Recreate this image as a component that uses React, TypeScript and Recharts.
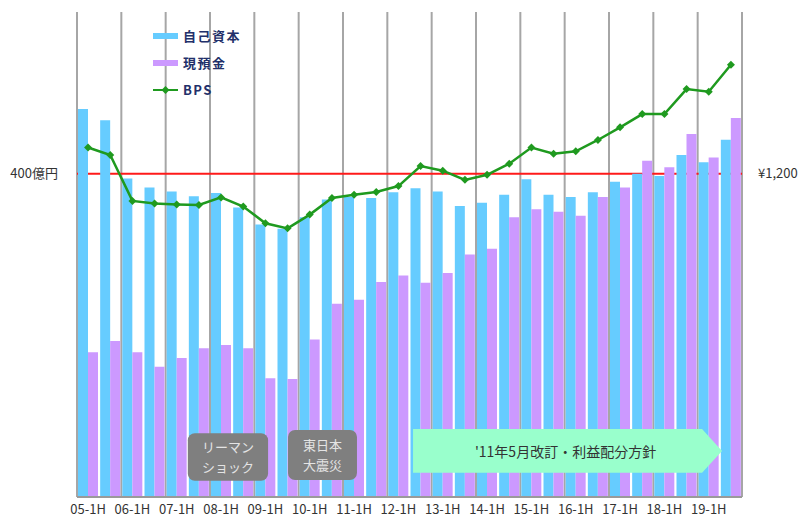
import {
  ComposedChart, Bar, Line, XAxis, YAxis, CartesianGrid,
} from 'recharts';

const periods = [
  '05-1H', '05-2H', '06-1H', '06-2H', '07-1H', '07-2H', '08-1H', '08-2H',
  '09-1H', '09-2H', '10-1H', '10-2H', '11-1H', '11-2H', '12-1H', '12-2H',
  '13-1H', '13-2H', '14-1H', '14-2H', '15-1H', '15-2H', '16-1H', '16-2H',
  '17-1H', '17-2H', '18-1H', '18-2H', '19-1H', '19-2H',
];

// 自己資本 (億円)
const equity = [
  480, 466, 394, 383, 378, 372, 376, 358, 337, 332, 346, 368, 371, 370, 377,
  382, 378, 360, 364, 374, 393, 374, 371, 377, 390, 400, 397, 423, 414, 442,
];

// 現預金 (億円)
const cash = [
  179, 193, 179, 161, 172, 184, 188, 184, 147, 146, 195, 239, 244, 266, 274,
  265, 277, 300, 307, 346, 356, 353, 348, 371, 383, 416, 408, 449, 420, 469,
];

// BPS (円)
const bps = [
  1297, 1269, 1099, 1089, 1086, 1084, 1112, 1078, 1016, 997, 1048, 1110, 1122,
  1132, 1154, 1228, 1211, 1177, 1196, 1237, 1297, 1274, 1283, 1325, 1372, 1421,
  1421, 1514, 1504, 1604,
];

const labelTicks = periods.filter(p => p.endsWith('1H'));
const years = periods.length / 2;
const leftMax = 600;
const rightMax = 1800;
const guide = 400; // 400億円 = ¥1,200

const data = periods.map((p, i) => ({ period: p, equity: equity[i], cash: cash[i], bps: bps[i] }));

const FONT = '"Noto Sans CJK JP", "Noto Sans", sans-serif';
const W = 800;
const H = 519;
const MARGIN = { top: 12, right: 0, left: 0, bottom: 0 };
const LEFT_W = 77;
const RIGHT_W = 58;
const X_H = 22;

// plot box, from the margins and axis sizes above
const PLOT_L = MARGIN.left + LEFT_W;
const PLOT_R = W - MARGIN.right - RIGHT_W;
const PLOT_T = MARGIN.top;
const PLOT_B = H - MARGIN.bottom - X_H;
const band = (PLOT_R - PLOT_L) / periods.length;
const px = (slot: number) => PLOT_L + slot * band;
const py = (v: number) => PLOT_B - (v / leftMax) * (PLOT_B - PLOT_T);

const Diamond = (props: any) => {
  const { cx, cy } = props;
  if (cx == null || cy == null) return null;
  const r = 4;
  return (
    <polygon
      points={`${cx},${cy - r} ${cx + r},${cy} ${cx},${cy + r} ${cx - r},${cy}`}
      fill="#1f9a1f"
    />
  );
};

// callouts: slot = category index on the x axis, value = left axis (億円)
const boxes = [
  { lines: ['リーマン', 'ショック'], s1: 5.0, s2: 8.62, v1: 79, v2: 20 },
  { lines: ['東日本', '大震災'], s1: 9.52, s2: 12.63, v1: 83, v2: 21 },
];
const policy = { text: "'11年5月改訂・利益配分方針", s1: 15.16, s2: 29.1, v1: 84, v2: 30 };

const Callouts = () => {
  const ax = px(policy.s1);
  const ar = px(policy.s2);
  const at = py(policy.v1);
  const ab = py(policy.v2);
  const head = 20;
  const am = (at + ab) / 2;
  return (
    <svg width={W} height={H} style={{ position: 'absolute', left: 0, top: 0 }}>
      {boxes.map(b => {
        const x = px(b.s1);
        const w = px(b.s2) - x;
        const y = py(b.v1);
        const h = py(b.v2) - y;
        return (
          <g key={b.lines[0]}>
            <rect x={x} y={y} width={w} height={h} rx={7} ry={7} fill="#7f7f7f" />
            {b.lines.map((l, i) => (
              <text
                key={l}
                x={x + w / 2}
                y={y + h / 2 + (i - 0.5) * 20}
                textAnchor="middle"
                dominantBaseline="central"
                fill="#e4e4e4"
                fontSize={13}
                fontFamily={FONT}
              >
                {l}
              </text>
            ))}
          </g>
        );
      })}
      <polygon
        points={`${ax},${at} ${ar - head},${at} ${ar},${am} ${ar - head},${ab} ${ax},${ab}`}
        fill="#99ffcc"
      />
      <text
        x={(ax + ar - head) / 2 + 8}
        y={am}
        textAnchor="middle"
        dominantBaseline="central"
        fill="#333"
        fontSize={14}
        fontFamily={FONT}
      >
        {policy.text}
      </text>
    </svg>
  );
};

const legendItems = [
  { name: '自己資本', color: '#66ccff', marker: false },
  { name: '現預金', color: '#cc99ff', marker: false },
  { name: 'BPS', color: '#1f9a1f', marker: true },
];

const ChartLegend = () => (
  <div style={{ position: 'absolute', top: 22, left: 152, fontFamily: FONT }}>
    {legendItems.map(it => (
      <div key={it.name} style={{ display: 'flex', alignItems: 'center', height: 27 }}>
        <svg width={28} height={10}>
          <line x1={1} y1={5} x2={26} y2={5} stroke={it.color} strokeWidth={it.marker ? 2 : 6} />
          {it.marker && <polygon points="13.5,1 17.5,5 13.5,9 9.5,5" fill={it.color} />}
        </svg>
        <span style={{ color: '#22306a', fontSize: 13, fontWeight: 700, marginLeft: 3, letterSpacing: 1.5 }}>
          {it.name}
        </span>
      </div>
    ))}
  </div>
);

export default function App() {
  return (
    <div style={{ position: 'absolute', left: 0, top: 0, width: W, height: H, background: '#fff' }}>
      <ComposedChart
        width={W}
        height={H}
        data={data}
        margin={MARGIN}
        barCategoryGap={1}
        barGap={0}
      >
        <XAxis
          dataKey="period"
          ticks={labelTicks}
          interval={0}
          height={X_H}
          tickSize={0}
          tickMargin={8}
          axisLine={{ stroke: '#9a9a9a', strokeWidth: 2 }}
          tick={{ fill: '#333', fontSize: 13, fontFamily: FONT }}
        />
        <YAxis
          yAxisId="l"
          domain={[0, leftMax]}
          ticks={[guide]}
          width={LEFT_W}
          axisLine={false}
          tickLine={false}
          tickMargin={13}
          tickFormatter={v => `${v}億円`}
          tick={{ fill: '#333', fontSize: 13, fontFamily: FONT }}
        />
        <YAxis
          yAxisId="r"
          orientation="right"
          domain={[0, rightMax]}
          ticks={[(guide * rightMax) / leftMax]}
          width={RIGHT_W}
          axisLine={false}
          tickLine={false}
          tickMargin={10}
          tickFormatter={v => `¥${v.toLocaleString('en-US')}`}
          tick={{ fill: '#333', fontSize: 13, fontFamily: FONT }}
        />
        <CartesianGrid
          yAxisId="l"
          horizontal={false}
          stroke="#a6a6a6"
          strokeWidth={2}
          verticalCoordinatesGenerator={({ offset }: any) =>
            Array.from({ length: years + 1 }, (_, k) => offset.left + (k * offset.width) / years)
          }
        />
        {/* red 400億円 guide, kept behind the bars */}
        <CartesianGrid
          yAxisId="l"
          vertical={false}
          stroke="#ff1a1a"
          strokeWidth={2}
          horizontalCoordinatesGenerator={({ offset }: any) => [
            offset.top + offset.height * (1 - guide / leftMax),
          ]}
        />
        <Bar yAxisId="l" dataKey="equity" name="自己資本" fill="#66ccff" isAnimationActive={false} />
        <Bar yAxisId="l" dataKey="cash" name="現預金" fill="#cc99ff" isAnimationActive={false} />
        <Line
          yAxisId="r"
          dataKey="bps"
          name="BPS"
          stroke="#1f9a1f"
          strokeWidth={2.5}
          dot={<Diamond />}
          activeDot={false}
          isAnimationActive={false}
        />
      </ComposedChart>
      <Callouts />
      <ChartLegend />
    </div>
  );
}
